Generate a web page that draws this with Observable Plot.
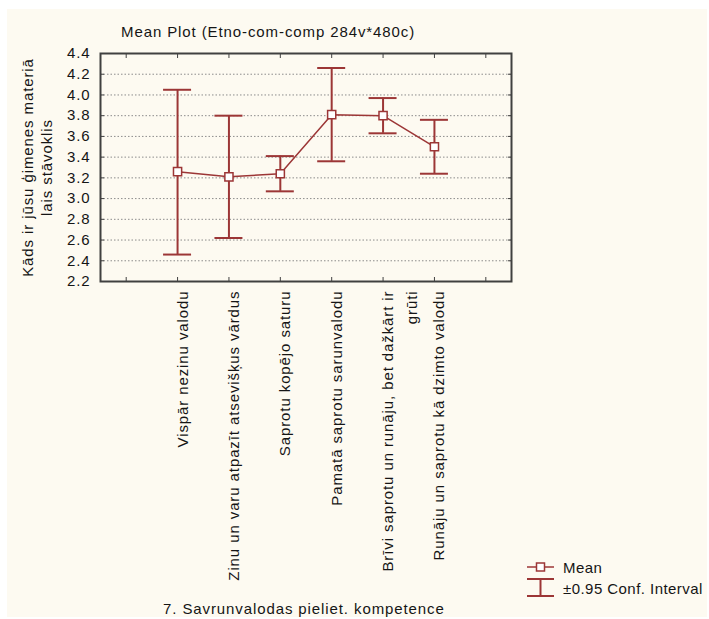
<!DOCTYPE html>
<html>
<head>
<meta charset="utf-8">
<script src="https://cdn.jsdelivr.net/npm/d3@7"></script>
<script src="https://cdn.jsdelivr.net/npm/@observablehq/plot@0.6"></script>
<style>
  html, body { margin: 0; padding: 0; background: #ffffff; }
  #panel {
    position: absolute; left: 7px; top: 9px; width: 700px; height: 608px;
    background: #fdfaf1; overflow: hidden;
    font-family: "Liberation Sans", Arial, sans-serif; font-size: 15px;
    letter-spacing: 0.9px; color: #151515;
  }
  #chart { position: absolute; left: 0; top: 0; width: 700px; height: 608px; }
  .lbl { position: absolute; white-space: nowrap; line-height: 15px; }
  #title { left: 114px; top: 15px; }
  #xtitle { left: 156px; top: 592px; }
  #legend { position: absolute; left: 515px; top: 548px; }
</style>
</head>
<body>
<div id="panel">
  <div id="chart"></div>
  <div class="lbl" id="title"></div>
  <div class="lbl" id="xtitle"></div>
  <div id="legend"></div>
</div>
<script>
// Texts
const title = "Mean Plot (Etno-com-comp 284v*480c)";
const yTitle = "Kāds ir jūsu ģimenes materiā\nlais stāvoklis";
const xTitle = "7. Savrunvalodas pieliet. kompetence";
const legendLabels = ["Mean", "±0.95 Conf. Interval"];

// Categories (slots 2..7 of an 8-slot axis; slots 1 and 8 stay empty)
const categories = [
  "Vispār nezinu valodu",
  "Zinu un varu atpazīt atsevišķus vārdus",
  "Saprotu kopējo saturu",
  "Pamatā saprotu sarunvalodu",
  "Brīvi saprotu un runāju, bet dažkārt ir\ngrūti",
  "Runāju un saprotu kā dzimto valodu"
];
const categorySlots = [2, 3, 4, 5, 6, 7];
const xSlots = [1, 2, 3, 4, 5, 6, 7, 8];

// Means and 95% confidence limits
const means = [3.26, 3.21, 3.24, 3.81, 3.80, 3.50];
const lower = [2.46, 2.62, 3.07, 3.36, 3.63, 3.24];
const upper = [4.05, 3.80, 3.41, 4.26, 3.97, 3.76];

const yTicks = [2.2, 2.4, 2.6, 2.8, 3.0, 3.2, 3.4, 3.6, 3.8, 4.0, 4.2, 4.4];

const red = "#9c3636";
const frameColor = "#404040";

const rows = categories.map((name, i) => ({
  name, slot: categorySlots[i], mean: means[i], lo: lower[i], hi: upper[i]
}));

const chart = Plot.plot({
  width: 700,
  height: 608,
  marginLeft: 93,
  marginTop: 44,
  marginRight: 196,
  marginBottom: 336,
  style: {
    background: "transparent",
    overflow: "visible",
    fontFamily: "'Liberation Sans', Arial, sans-serif",
    fontSize: "15px",
    letterSpacing: "0.9px",
    color: "#151515"
  },
  x: { type: "linear", domain: [0.5, 8.5] },
  y: { domain: [2.2, 4.4] },
  marks: [
    Plot.gridY(yTicks.slice(1, -1), { stroke: "#8c8c8c", strokeOpacity: 1, strokeDasharray: "1.5,2" }),
    // inward ticks on all four sides
    Plot.axisY({ anchor: "left", ticks: yTicks, tickSize: -4, tickFormat: () => "", label: null, stroke: frameColor }),
    Plot.axisY({ anchor: "right", ticks: yTicks, tickSize: -4, tickFormat: () => "", label: null, stroke: frameColor }),
    Plot.axisX({ anchor: "top", ticks: xSlots, tickSize: -4, tickFormat: () => "", label: null, stroke: frameColor }),
    Plot.axisX({ anchor: "bottom", ticks: xSlots, tickSize: -4, tickFormat: () => "", label: null, stroke: frameColor }),
    // y tick labels
    Plot.axisY({ anchor: "left", ticks: yTicks, tickSize: 0, tickPadding: 10, tickFormat: d => d.toFixed(1), label: null }),
    // rotated category labels
    Plot.text(rows, {
      x: "slot", text: "name", frameAnchor: "bottom", rotate: -90,
      textAnchor: "end", lineAnchor: "top", dx: -7, dy: 9, lineHeight: 1.6, fill: "#151515"
    }),
    // y axis title
    Plot.text([yTitle], {
      text: d => d, frameAnchor: "left", rotate: -90, dx: -64,
      textAnchor: "middle", lineAnchor: "middle", lineHeight: 1.27, fill: "#151515"
    }),
    Plot.line(rows, { x: "slot", y: "mean", stroke: red, strokeWidth: 1.5 }),
    Plot.ruleX(rows, { x: "slot", y1: "lo", y2: "hi", stroke: red, strokeWidth: 2 }),
    Plot.ruleY(rows, { y: "hi", x1: "slot", x2: "slot", insetLeft: -14, insetRight: -14, stroke: red, strokeWidth: 2 }),
    Plot.ruleY(rows, { y: "lo", x1: "slot", x2: "slot", insetLeft: -14, insetRight: -14, stroke: red, strokeWidth: 2 }),
    Plot.dot(rows, { x: "slot", y: "mean", symbol: "square", r: 4.6, fill: "white", stroke: red, strokeWidth: 1.5 }),
    Plot.frame({ stroke: frameColor, strokeWidth: 2 })
  ]
});
document.getElementById("chart").appendChild(chart);

document.getElementById("title").textContent = title;
document.getElementById("xtitle").textContent = xTitle;

// Legend: mean marker and confidence-interval whisker
const lg = d3.select("#legend").append("svg").attr("width", 190).attr("height", 50)
  .style("overflow", "visible");
lg.append("line").attr("x1", 5).attr("x2", 32).attr("y1", 10).attr("y2", 10)
  .attr("stroke", red).attr("stroke-width", 1.5);
lg.append("rect").attr("x", 14.5).attr("y", 6).attr("width", 8).attr("height", 8)
  .attr("fill", "white").attr("stroke", red).attr("stroke-width", 1.5);
[22, 39].forEach(y => lg.append("line").attr("x1", 5).attr("x2", 32).attr("y1", y).attr("y2", y)
  .attr("stroke", red).attr("stroke-width", 2));
lg.append("line").attr("x1", 18.5).attr("x2", 18.5).attr("y1", 22).attr("y2", 39)
  .attr("stroke", red).attr("stroke-width", 2);
lg.selectAll("text.item").data(legendLabels).join("text")
  .attr("class", "item")
  .attr("x", 41).attr("y", (d, i) => 16 + i * 21)
  .attr("fill", "#151515")
  .style("font-family", "'Liberation Sans', Arial, sans-serif")
  .style("font-size", "15px").style("letter-spacing", "0.45px")
  .text(d => d);
</script>
</body>
</html>
